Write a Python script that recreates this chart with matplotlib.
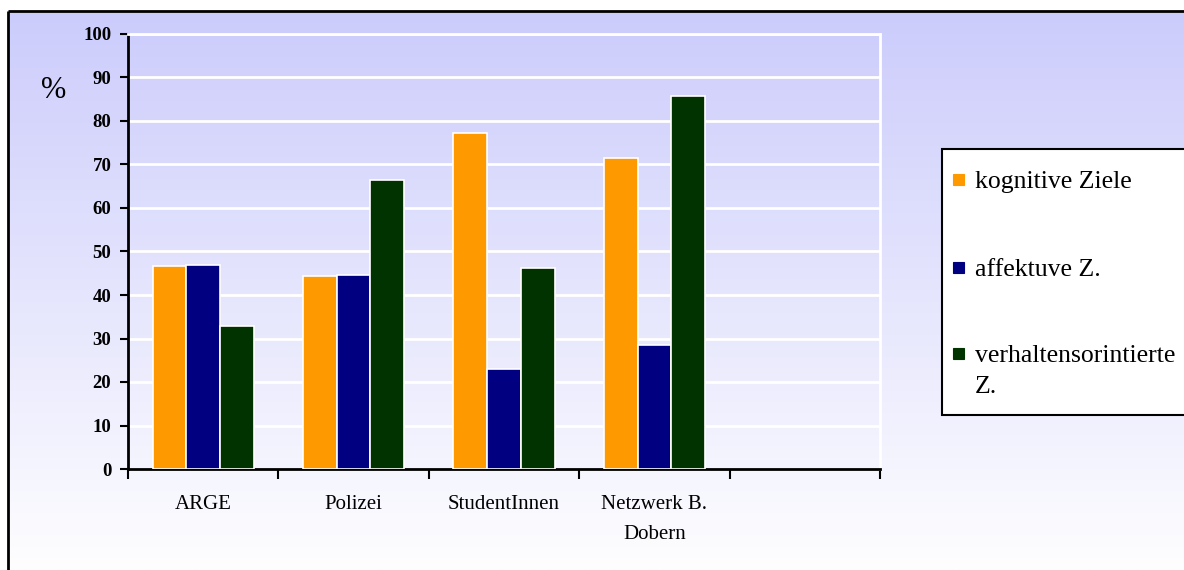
import matplotlib
matplotlib.use("Agg")
import matplotlib.pyplot as plt
from matplotlib.patches import Rectangle
import numpy as np

plt.rcParams["font.family"] = ["Liberation Serif", "DejaVu Serif"]

categories = ["ARGE", "Polizei", "StudentInnen", "Netzwerk B.\nDobern", ""]
series_names = ["kognitive Ziele", "affektuve Z.", "verhaltensorintierte\nZ."]
series_colors = ["#FF9900", "#000080", "#003300"]
kognitiv = [46.7, 44.4, 77.2, 71.5]
affektiv = [46.9, 44.6, 23.0, 28.5]
verhalten = [32.9, 66.4, 46.2, 85.7]
yticks = [0, 10, 20, 30, 40, 50, 60, 70, 80, 90, 100]

W, H = 1184, 570
fig = plt.figure(figsize=(W / 100, H / 100), dpi=100)

# background panel in pixel coordinates: vertical gradient + frame
bg = fig.add_axes([0, 0, 1, 1], zorder=-10)
bg.set_xlim(0, W)
bg.set_ylim(H, 0)
grad = np.linspace(0, 1, 256)[:, None]
top = np.array([204, 204, 252]) / 255
bot = np.array([254, 254, 255]) / 255
img = top[None, None, :] * (1 - grad[..., None]) + bot[None, None, :] * grad[..., None]
img = np.repeat(img, 2, axis=1)
bg.imshow(img, extent=(8, W, H, 11), aspect="auto", interpolation="bilinear")
bg.plot([8, 8], [H, 11], color="black", lw=2, solid_capstyle="butt")
bg.plot([8, W], [11, 11], color="black", lw=2, solid_capstyle="butt")
bg.axis("off")

# legend box drawn by hand so the wrapped third label sits like the original
bg.add_patch(Rectangle((942, 149), 260, 266, facecolor="white",
                       edgecolor="black", lw=1.5, clip_on=False))
legend_y = [188, 276, 362]
for name, col, yb in zip(series_names, series_colors, legend_y):
    bg.add_patch(Rectangle((953, yb - 14), 11, 11, facecolor=col,
                           edgecolor=col, lw=0.8))
    for k, line in enumerate(name.split("\n")):
        bg.text(975, yb + 31 * k, line, fontsize=18.5, va="baseline",
                ha="left", color="black")

ax = fig.add_axes([128 / W, 1 - 469 / H, (880 - 128) / W, (469 - 34) / H])
ax.set_facecolor("none")

x = np.arange(len(categories))
w = 0.224
n = len(kognitiv)
for i, (vals, col) in enumerate(zip([kognitiv, affektiv, verhalten], series_colors)):
    ax.bar(x[:n] + (i - 1) * w, vals, width=w, color=col,
           edgecolor="white", linewidth=1.2, zorder=3)

ax.set_xlim(-0.5, len(categories) - 0.5)
ax.set_ylim(0, 100)
ax.set_yticks(yticks)
ax.set_yticklabels([str(v) for v in yticks], fontsize=13.5, fontweight="bold")
ax.yaxis.grid(True, color="white", lw=2, zorder=1)
ax.set_axisbelow(True)

ax.set_xticks(x)
ax.set_xticklabels(categories, fontsize=15, linespacing=1.75)
ax.set_xticks(np.arange(-0.5, len(categories)), minor=True)
ax.tick_params(axis="x", which="major", length=0, pad=19)
ax.tick_params(axis="x", which="minor", length=7, width=1.5, direction="out")
ax.tick_params(axis="y", length=6, width=1.5, direction="out", pad=6)

for side in ["left", "bottom"]:
    ax.spines[side].set_linewidth(2)
    ax.spines[side].set_color("black")
for side in ["top", "right"]:
    ax.spines[side].set_linewidth(2)
    ax.spines[side].set_color("white")

fig.text(54 / W, 1 - 90 / H, "%", fontsize=22, ha="center", va="center")

fig.savefig("out.png", dpi=100)
